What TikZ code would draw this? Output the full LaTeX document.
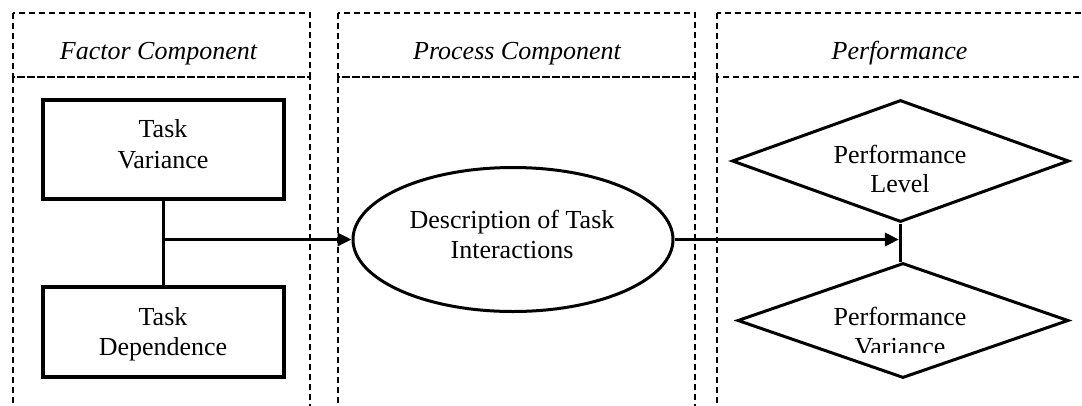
\documentclass[tikz,border=0pt]{standalone}
\usepackage{fontspec}
\setmainfont{Liberation Serif}
\usetikzlibrary{shapes.geometric,arrows.meta}
\begin{document}
\begin{tikzpicture}[x=1pt,y=-1pt,
  lane/.style={draw=black,line width=1.3pt,dash pattern=on 6pt off 4pt},
  boxnode/.style={draw=black,line width=3.3pt,rectangle,inner sep=0pt,minimum width=241pt},
  ellnode/.style={draw=black,line width=3pt,ellipse,inner sep=0pt,minimum width=320pt,minimum height=144pt},
  dianode/.style={draw=black,line width=3pt,diamond,inner sep=0pt},
  conn/.style={draw=black,line width=3.3pt},
  txt/.style={anchor=base,inner sep=0pt,font=\fontsize{26}{30}\selectfont},
  head/.style={anchor=base,inner sep=0pt,font=\fontsize{26}{30}\selectfont\itshape}]
\useasboundingbox (0,0) rectangle (1082,405);
\begin{scope}
\clip (0,0) rectangle (1082,405);
% lanes
\draw[lane] (13,13) rectangle (310,77);
\draw[lane] (13,77) rectangle (310,430);
\draw[lane] (338,13) rectangle (695,77);
\draw[lane] (338,77) rectangle (695,430);
\draw[lane] (717,13) rectangle (1100,77);
\draw[lane] (717,77) rectangle (1100,430);
\end{scope}
\node[head] (h1) at (158.5,59) {Factor Component};
\node[head] (h2) at (517,59) {Process Component};
\node[head] (h3) at (899.5,59) {Performance};
% shapes
\node[boxnode,minimum height=99pt] (b1) at (163.5,149.5) {};
\node[boxnode,minimum height=90pt] (b2) at (163.5,332) {};
\node[ellnode] (ell) at (513,239.5) {};
\node[dianode,minimum width=337pt,minimum height=122pt] (d1) at (900.5,161) {};
\node[dianode,minimum width=331pt,minimum height=115pt] (d2) at (903,320.5) {};
% texts
\node[txt] (t1a) at (163,137) {Task};
\node[txt] (t1b) at (163,168) {Variance};
\node[txt] (t2a) at (163,325) {Task};
\node[txt] (t2b) at (163,355) {Dependence};
\node[txt] (t3a) at (512,228) {Description of Task};
\node[txt] (t3b) at (512,258) {Interactions};
\node[txt] (t4a) at (900,163) {Performance};
\node[txt] (t4b) at (900,192) {Level};
\begin{scope}
\clip (720,250) rectangle (1082,352);
\node[txt] (t5a) at (900,325) {Performance};
\node[txt] (t5b) at (900,355) {Variance};
\end{scope}
% connectors
\coordinate (j1) at (163.5,239.5);
\coordinate (j2) at (900.5,239.5);
\draw[conn] (b1.south) -- (b2.north);
\draw[conn,-{Triangle[length=14pt,width=13pt]}] (j1) -- (ell.west);
\draw[conn] (d1.south) -- (d2.north -| d1.south);
\draw[conn,-{Triangle[length=14pt,width=13pt]},shorten >=1.6pt] (ell.east) -- (j2);
\end{tikzpicture}
\end{document}
